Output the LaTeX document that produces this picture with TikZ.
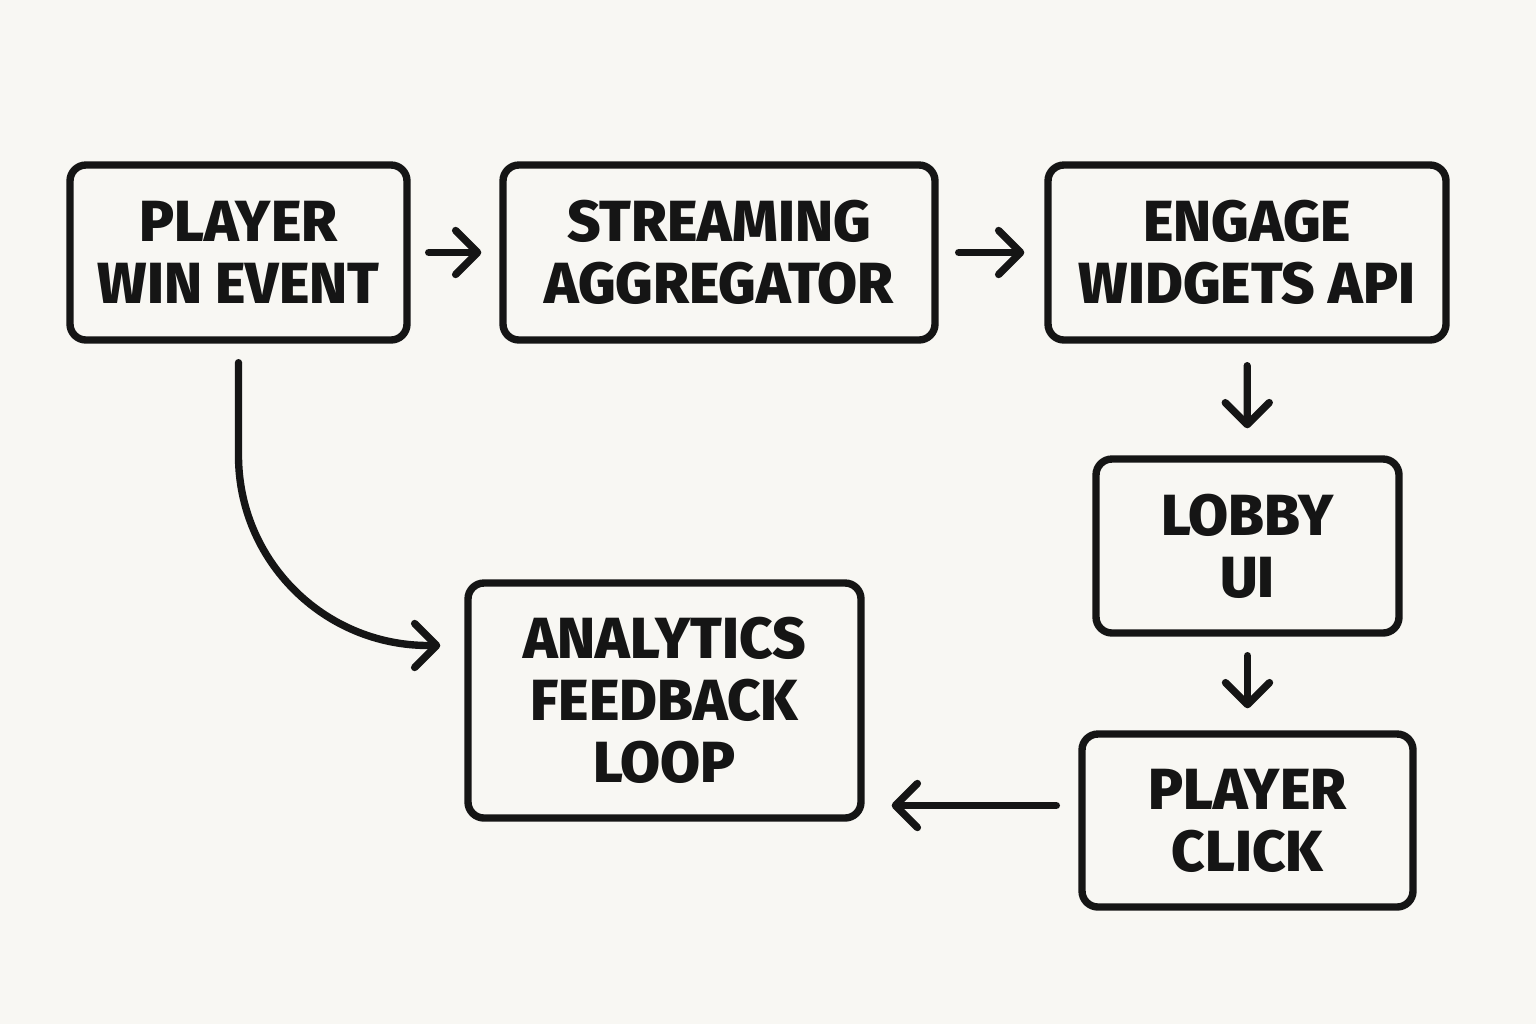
\documentclass[tikz,border=0pt]{standalone}
\usepackage{fontspec}
\setmainfont{Fira Sans}[UprightFont=* ExtraBold]
\usetikzlibrary{arrows.meta}
\definecolor{ink}{HTML}{151515}
\definecolor{paper}{HTML}{F8F7F3}

\begin{document}
\begin{tikzpicture}[x=1cm, y=1cm, line width=2.1pt, draw=ink,
  every node/.style={draw=ink, rounded corners=1.6mm, align=center, text=ink,
    font=\fontsize{16.5}{17.6}\selectfont, inner sep=0pt},
  flow/.style={-{Straight Barb[length=2.2mm, width=4.4mm, round]}, line cap=round, draw=ink}]
\fill[paper] (0,0) rectangle (15.36,-10.24);
\useasboundingbox (0,0) rectangle (15.36,-10.24);
\node (win) [minimum width=3.37cm, minimum height=1.75cm] at (2.385,-2.525) {PLAYER\\WIN EVENT};
\node (agg) [minimum width=4.32cm, minimum height=1.75cm] at (7.19,-2.525) {STREAMING\\AGGREGATOR};
\node (api) [minimum width=3.98cm, minimum height=1.75cm] at (12.47,-2.525) {ENGAGE\\WIDGETS API};
\node (lobby) [minimum width=3.03cm, minimum height=1.74cm] at (12.475,-5.46) {LOBBY\\UI};
\node (click) [minimum width=3.31cm, minimum height=1.73cm] at (12.475,-8.205) {PLAYER\\CLICK};
\node (loop) [minimum width=3.93cm, minimum height=2.35cm] at (6.645,-7.005) {ANALYTICS\\FEEDBACK\\LOOP};
\draw[flow, shorten <=1.8mm, shorten >=1.8mm] (win) -- (agg);
\draw[flow, shorten <=2mm, shorten >=2mm] (agg) -- (api);
\draw[flow, shorten <=2.2mm, shorten >=2.7mm] (api) -- (lobby);
\draw[flow, shorten <=1.9mm, shorten >=2.2mm] (lobby) -- (click);
\draw[flow, shorten <=2.2mm, shorten >=2.7mm] ([yshift=1.5mm]click.west) -- ([yshift=1.5mm]click.west -| loop.east);
\draw[flow, rounded corners=1.9cm, shorten <=1.9mm, shorten >=2.4mm] (win.south) |- ([yshift=0.55cm]loop.west);
\end{tikzpicture}
\end{document}
